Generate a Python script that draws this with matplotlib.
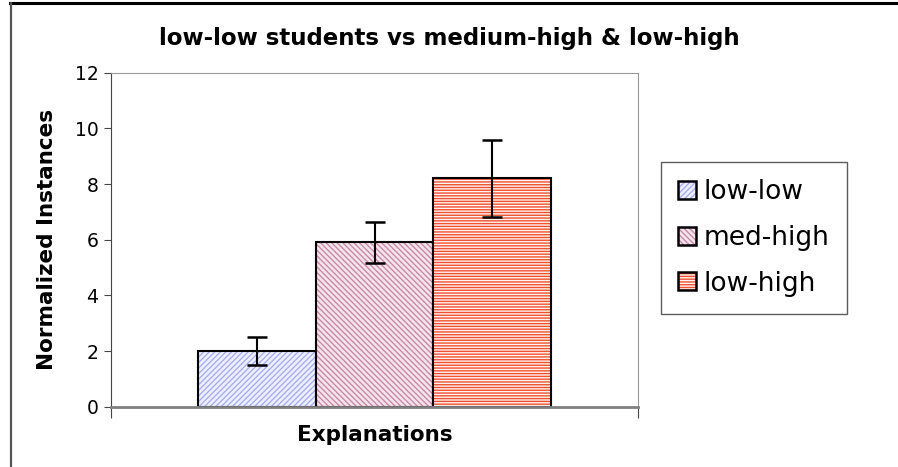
import matplotlib
matplotlib.use("Agg")
import matplotlib.pyplot as plt
from matplotlib.lines import Line2D
from matplotlib.patches import Patch
from matplotlib.legend_handler import HandlerTuple

groups = ["low-low", "med-high", "low-high"]
values = [2.0, 5.9, 8.2]
errors = [0.5, 0.74, 1.4]
y_ticks = [0, 2, 4, 6, 8, 10, 12]

face_cols = ["#eef0ff", "#f4e4ec", "#fff4f2"]
hatch_cols = ["#a9aef2", "#c88aa6", "#f0502e"]
hatches = ["//////", "\\\\\\\\\\\\", "------"]

plt.rcParams["font.family"] = ["DejaVu Sans"]
plt.rcParams["hatch.linewidth"] = 1.0

fig = plt.figure(figsize=(8.98, 4.67), dpi=100)
ax = fig.add_axes([0.1236, 0.1291, 0.5869, 0.7152])

width = 0.2227
xs = [(i - 1) * width for i in range(len(groups))]

for x, v, fc, hc, h in zip(xs, values, face_cols, hatch_cols, hatches):
    ax.bar(x, v, width, color=fc, edgecolor=hc, hatch=h, linewidth=0)
    ax.bar(x, v, width, fill=False, edgecolor="black", linewidth=1.5)

ax.errorbar(xs, values, yerr=errors, fmt="none", ecolor="black",
            elinewidth=1.5, capsize=7, capthick=1.8)

ax.set_xlim(-0.5, 0.5)
ax.set_ylim(0, 12)
ax.set_yticks(y_ticks)
ax.set_xticks([-0.5, 0.5])
ax.set_xticklabels([])
ax.tick_params(axis="y", direction="out", length=5, labelsize=13.5, pad=4,
               color="#444444")
ax.tick_params(axis="x", direction="out", length=8, color="#444444")

for s in ["top", "right"]:
    ax.spines[s].set_color("#999999")
ax.spines["left"].set_color("#444444")
ax.spines["bottom"].set_color("#808080")
ax.spines["bottom"].set_linewidth(2)

ax.set_ylabel("Normalized Instances", fontsize=15.5, fontweight="bold",
              labelpad=13)
ax.set_xlabel("Explanations", fontsize=15.5, fontweight="bold", labelpad=2)
fig.text(0.5, 0.918, "low-low students vs medium-high & low-high",
         ha="center", va="center", fontsize=16.5, fontweight="bold")

# legend keys: hatched fill plus black outline drawn on top
handles = []
for fc, hc, h in zip(face_cols, hatch_cols, hatches):
    fill = Patch(facecolor=fc, edgecolor=hc, hatch=h, linewidth=0)
    edge = Patch(fill=False, edgecolor="black", linewidth=1.8)
    handles.append((fill, edge))

leg = fig.legend(handles, groups, loc="center", bbox_to_anchor=(0.8393, 0.4906),
                 handler_map={tuple: HandlerTuple(ndivide=1, pad=0)},
                 fontsize=19, frameon=True, fancybox=False, edgecolor="#333333",
                 handlelength=0.68, handleheight=0.68, handletextpad=0.3,
                 labelspacing=0.75, borderpad=0.65)
leg.get_frame().set_linewidth(1.0)

# outer frame of the chart
fig.add_artist(Line2D([0.011, 1.0], [0.993, 0.993], transform=fig.transFigure,
                      color="black", linewidth=2.2))
fig.add_artist(Line2D([0.012, 0.012], [0.0, 0.993], transform=fig.transFigure,
                      color="#555555", linewidth=1.6))

fig.savefig("out.png", dpi=100)
